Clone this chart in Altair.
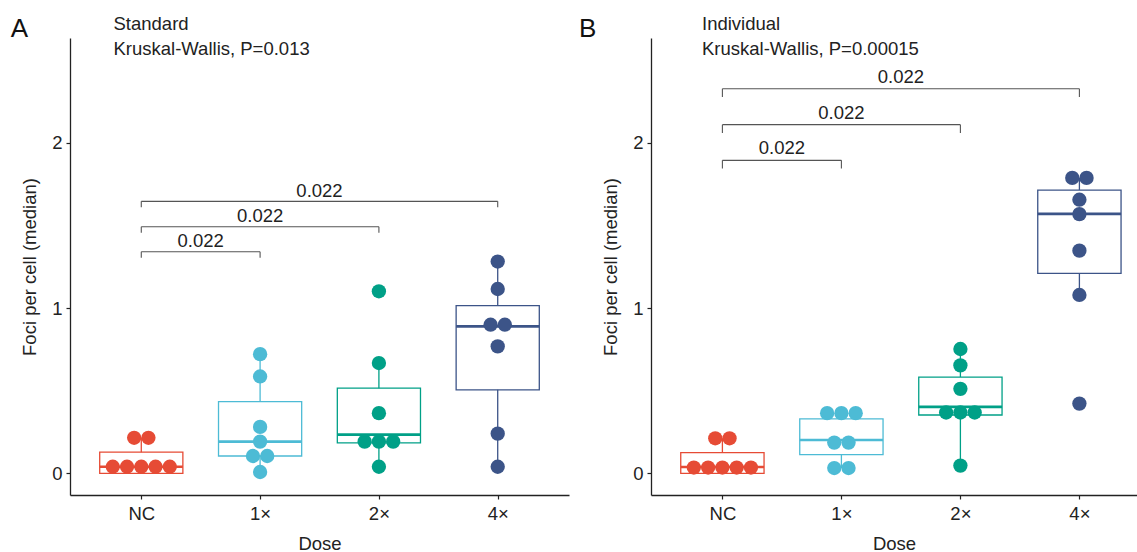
import altair as alt
import pandas as pd

CATEGORIES = ["NC", "1×", "2×", "4×"]
COLORS = ["#E64B35", "#4DBBD5", "#00A087", "#3C5488"]

# ---- Panel A: Standard (dot values, one list per dose) ----
STD_NC = [0.04, 0.04, 0.04, 0.04, 0.04, 0.215, 0.215]
STD_1X = [0.008, 0.105, 0.105, 0.192, 0.281, 0.586, 0.721]
STD_2X = [0.04, 0.192, 0.192, 0.192, 0.364, 0.667, 1.101]
STD_4X = [0.04, 0.240, 0.768, 0.899, 0.899, 1.115, 1.281]

# box statistics (per dose): lower whisker, Q1, median, Q3, upper whisker
STD_WLO = [0.0, 0.008, 0.04, 0.04]
STD_Q1 = [0.0, 0.105, 0.184, 0.505]
STD_MED = [0.04, 0.192, 0.234, 0.889]
STD_Q3 = [0.128, 0.434, 0.515, 1.014]
STD_WHI = [0.215, 0.721, 0.667, 1.281]

# ---- Panel B: Individual ----
IND_NC = [0.035, 0.035, 0.035, 0.035, 0.035, 0.212, 0.212]
IND_1X = [0.032, 0.032, 0.186, 0.186, 0.364, 0.364, 0.364]
IND_2X = [0.047, 0.368, 0.368, 0.368, 0.511, 0.653, 0.752]
IND_4X = [0.422, 1.079, 1.347, 1.568, 1.655, 1.787, 1.787]

IND_WLO = [0.0, 0.032, 0.047, 1.079]
IND_Q1 = [0.0, 0.113, 0.353, 1.210]
IND_MED = [0.038, 0.202, 0.402, 1.569]
IND_Q3 = [0.125, 0.329, 0.582, 1.713]
IND_WHI = [0.212, 0.364, 0.752, 1.787]

# ---- pairwise comparison brackets ----
BRACKET_FROM = ["NC", "NC", "NC"]
BRACKET_TO = ["1×", "2×", "4×"]
BRACKET_LABELS = ["0.022", "0.022", "0.022"]
STD_BRACKET_Y = [1.340, 1.491, 1.645]
IND_BRACKET_Y = [1.893, 2.109, 2.326]

TITLES = ["Standard", "Individual"]
TESTS = ["Kruskal-Wallis, P=0.013", "Kruskal-Wallis, P=0.00015"]
LETTERS = ["A", "B"]

Y_DOMAIN = [-0.131, 2.633]
FONT = "Liberation Sans"
FS = 18.5
BOX_HALF = 0.35
DOT_STEP = 0.12
LABEL_EXPR = "[" + ",".join("'%s'" % c for c in CATEGORIES) + "][datum.value]"


def panel(dot_lists, wlo, q1, med, q3, whi, bracket_y, tip, label_dy,
          xdom, width, title, test, letter, title_dx, letter_dx):
    dots = pd.DataFrame([
        {"idx": i, "group": CATEGORIES[i], "value": v}
        for i, lst in enumerate(dot_lists) for v in lst
    ])
    stats = pd.DataFrame({
        "idx": list(range(len(CATEGORIES))), "group": CATEGORIES,
        "wlo": wlo, "q1": q1, "med": med, "q3": q3, "whi": whi,
    })
    br = pd.DataFrame({
        "i1": [CATEGORIES.index(g) for g in BRACKET_FROM],
        "i2": [CATEGORIES.index(g) for g in BRACKET_TO],
        "level": bracket_y, "label": BRACKET_LABELS,
    })
    tips = pd.DataFrame(
        [{"i": r.i1, "level": r.level} for r in br.itertuples()]
        + [{"i": r.i2, "level": r.level} for r in br.itertuples()]
    )

    xs = alt.Scale(domain=xdom, nice=False, zero=False)
    ys = alt.Scale(domain=Y_DOMAIN, nice=False, zero=False)
    xax = alt.Axis(values=[0, 1, 2, 3], labelExpr=LABEL_EXPR, title="Dose",
                   labelPadding=5, titlePadding=12, tickSize=4)
    yax = alt.Axis(values=[0, 1, 2], title="Foci per cell (median)",
                   labelPadding=4, titlePadding=12, tickSize=4)
    cscale = alt.Scale(domain=CATEGORIES, range=COLORS)

    def X(f):
        return alt.X(f, scale=xs, axis=xax)

    def Y(f):
        return alt.Y(f, scale=ys, axis=yax)

    whisk = alt.Chart(stats).mark_rule(strokeWidth=1.3).encode(
        x=X("idx:Q"), y=Y("wlo:Q"), y2="whi:Q",
        color=alt.Color("group:N", scale=cscale, legend=None))

    box = alt.Chart(stats).transform_calculate(
        lo=f"datum.idx - {BOX_HALF}", hi=f"datum.idx + {BOX_HALF}"
    ).mark_rect(fill="white", strokeWidth=1.3).encode(
        x=X("lo:Q"), x2="hi:Q", y=Y("q1:Q"), y2="q3:Q",
        stroke=alt.Stroke("group:N", scale=cscale, legend=None))

    median = alt.Chart(stats).transform_calculate(
        lo=f"datum.idx - {BOX_HALF}", hi=f"datum.idx + {BOX_HALF}"
    ).mark_rule(strokeWidth=2.6).encode(
        x=X("lo:Q"), x2="hi:Q", y=Y("med:Q"),
        color=alt.Color("group:N", scale=cscale, legend=None))

    pts = alt.Chart(dots).transform_window(
        rank="row_number()", groupby=["idx", "value"]
    ).transform_joinaggregate(
        n="count()", groupby=["idx", "value"]
    ).transform_calculate(
        xpos=f"datum.idx + (datum.rank - (datum.n + 1) / 2) * {DOT_STEP}"
    ).mark_circle(size=205, opacity=1).encode(
        x=X("xpos:Q"), y=Y("value:Q"),
        color=alt.Color("group:N", scale=cscale, legend=None))

    hbar = alt.Chart(br).mark_rule(color="#555555", strokeWidth=1.1).encode(
        x=X("i1:Q"), x2="i2:Q", y=Y("level:Q"))

    vtips = alt.Chart(tips).transform_calculate(
        bottom=f"datum.level - {tip}"
    ).mark_rule(color="#555555", strokeWidth=1.1).encode(
        x=X("i:Q"), y=Y("level:Q"), y2="bottom:Q")

    blabels = alt.Chart(br).transform_calculate(
        mid="(datum.i1 + datum.i2) / 2"
    ).mark_text(font=FONT, fontSize=FS, color="#222222", baseline="alphabetic",
                dy=-label_dy).encode(
        x=X("mid:Q"), y=Y("level:Q"), text="label:N")

    t1 = alt.Chart(pd.DataFrame({"t": [title]})).mark_text(
        font=FONT, fontSize=FS, color="#222222", align="left",
        baseline="alphabetic").encode(
        x=alt.value(title_dx), y=alt.value(-7.8), text="t:N")
    t2 = alt.Chart(pd.DataFrame({"t": [test]})).mark_text(
        font=FONT, fontSize=FS, color="#222222", align="left",
        baseline="alphabetic").encode(
        x=alt.value(title_dx), y=alt.value(16.5), text="t:N")
    let = alt.Chart(pd.DataFrame({"t": [letter]})).mark_text(
        font=FONT, fontSize=26, color="#111111", align="left",
        baseline="alphabetic").encode(
        x=alt.value(letter_dx), y=alt.value(-0.8), text="t:N")

    return alt.layer(whisk, box, median, pts, hbar, vtips, blabels, t1, t2, let
                     ).properties(width=width, height=457)


left = panel([STD_NC, STD_1X, STD_2X, STD_4X], STD_WLO, STD_Q1, STD_MED, STD_Q3,
             STD_WHI, STD_BRACKET_Y, 0.036, 4.5, [-0.6, 3.6], 499,
             TITLES[0], TESTS[0], LETTERS[0], 43.5, -59.3)
right = panel([IND_NC, IND_1X, IND_2X, IND_4X], IND_WLO, IND_Q1, IND_MED, IND_Q3,
              IND_WHI, IND_BRACKET_Y, 0.05, 6, [-0.6, 3.484], 486,
              TITLES[1], TESTS[1], LETTERS[1], 51, -72)

chart = alt.hconcat(left, right, spacing=10).properties(
    padding={"left": 10, "top": 15, "right": 0, "bottom": 0}
).configure_view(stroke=None).configure_axis(
    labelFont=FONT, titleFont=FONT, labelFontSize=FS, titleFontSize=FS,
    titleFontWeight="normal", labelColor="#222222", titleColor="#222222",
    domainColor="#222222", tickColor="#222222", domainWidth=1.3, tickWidth=1.2,
    grid=False
)

chart.save("out.html", embed_options={"renderer": "svg", "actions": False})
